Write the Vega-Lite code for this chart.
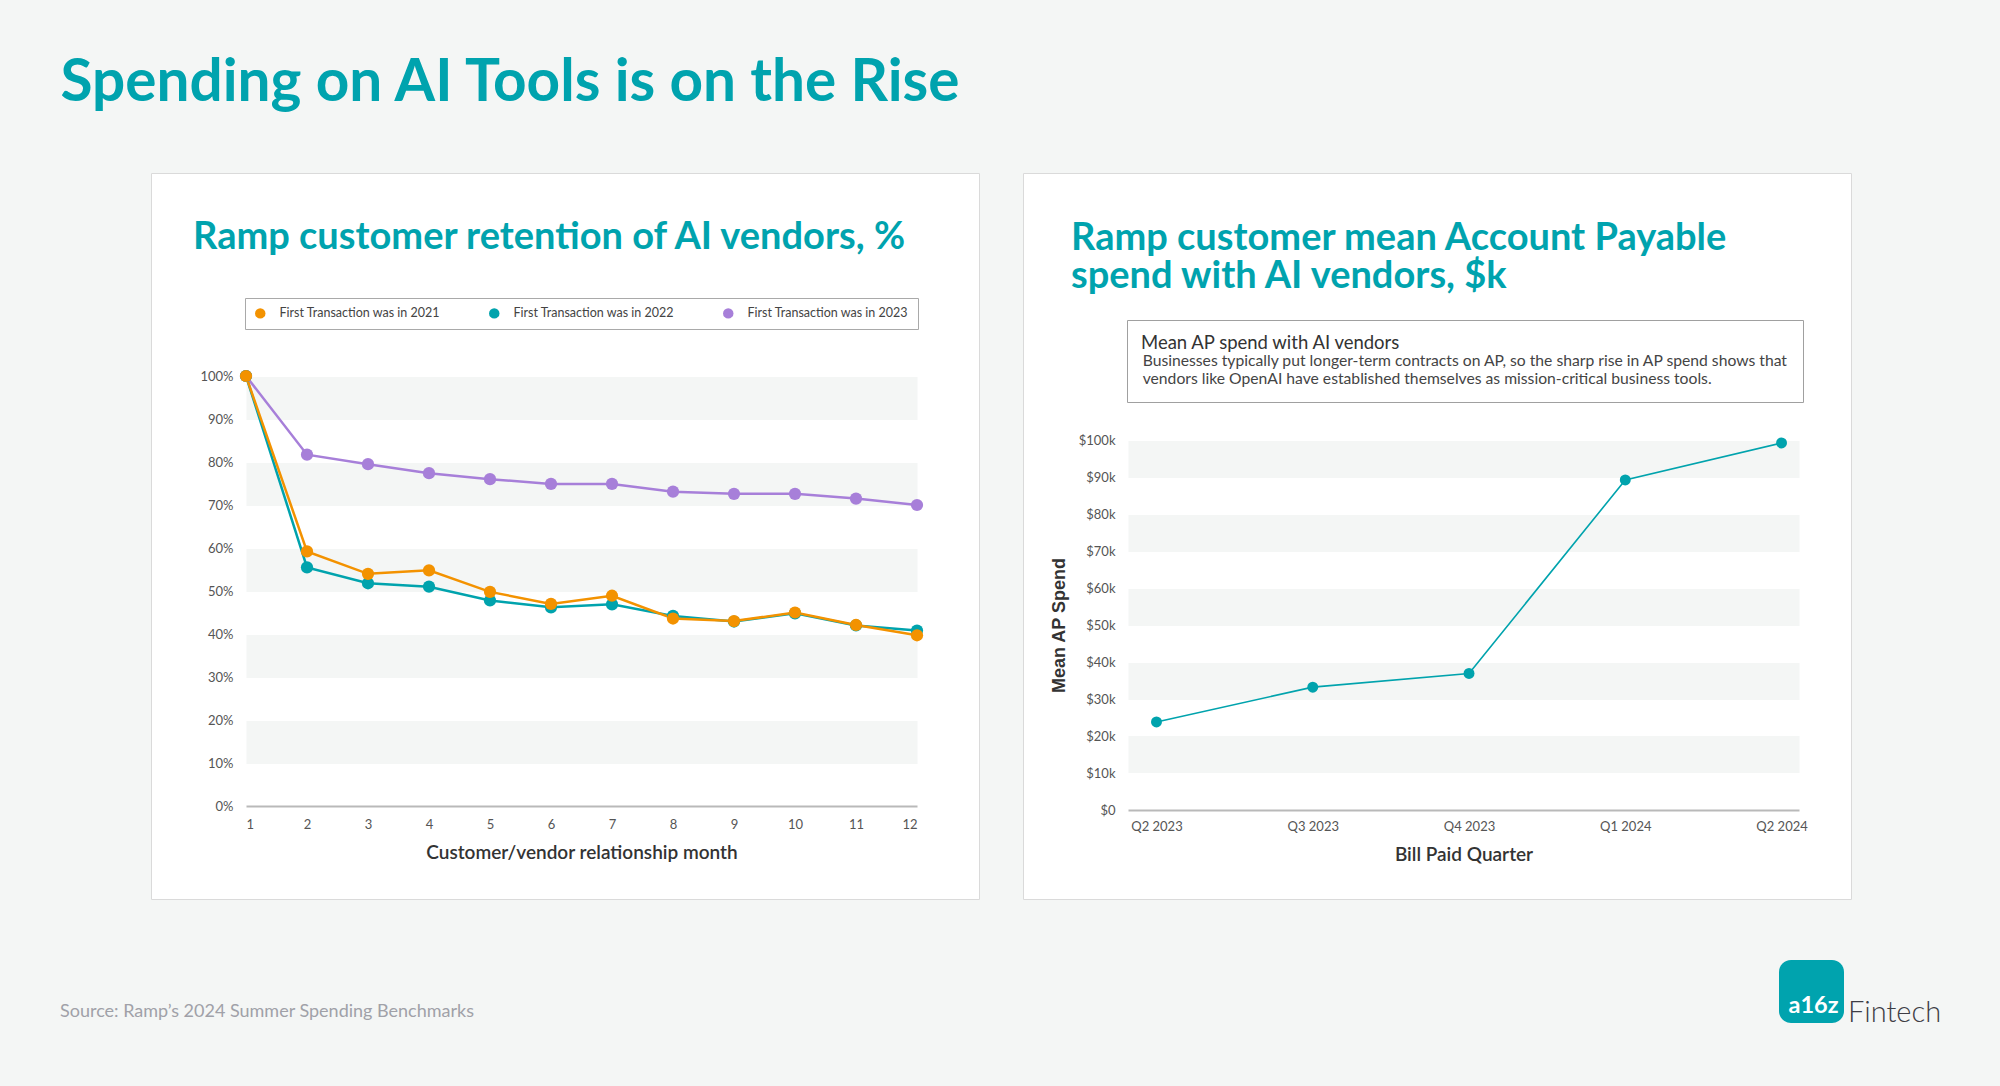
{
  "$schema": "https://vega.github.io/schema/vega-lite/v6.json",
  "background": "#F4F6F5",
  "padding": {"left": 60, "top": 54, "right": 60, "bottom": 80},
  "title": {"text": "Spending on AI Tools is on the Rise", "anchor": "start", "frame": "bounds", "font": "Lato", "fontSize": 58.5, "fontWeight": "bold", "color": "#00A3AE", "baseline": "alphabetic", "offset": 13},
  "datasets": {
    "retention": [
      {"cohort": "First Transaction was in 2023", "month": 1, "retention": 1.0},
      {"cohort": "First Transaction was in 2023", "month": 2, "retention": 0.817},
      {"cohort": "First Transaction was in 2023", "month": 3, "retention": 0.795},
      {"cohort": "First Transaction was in 2023", "month": 4, "retention": 0.774},
      {"cohort": "First Transaction was in 2023", "month": 5, "retention": 0.76},
      {"cohort": "First Transaction was in 2023", "month": 6, "retention": 0.749},
      {"cohort": "First Transaction was in 2023", "month": 7, "retention": 0.749},
      {"cohort": "First Transaction was in 2023", "month": 8, "retention": 0.731},
      {"cohort": "First Transaction was in 2023", "month": 9, "retention": 0.726},
      {"cohort": "First Transaction was in 2023", "month": 10, "retention": 0.726},
      {"cohort": "First Transaction was in 2023", "month": 11, "retention": 0.715},
      {"cohort": "First Transaction was in 2023", "month": 12, "retention": 0.7},
      {"cohort": "First Transaction was in 2022", "month": 1, "retention": 1.0},
      {"cohort": "First Transaction was in 2022", "month": 2, "retention": 0.555},
      {"cohort": "First Transaction was in 2022", "month": 3, "retention": 0.518},
      {"cohort": "First Transaction was in 2022", "month": 4, "retention": 0.51},
      {"cohort": "First Transaction was in 2022", "month": 5, "retention": 0.478},
      {"cohort": "First Transaction was in 2022", "month": 6, "retention": 0.462},
      {"cohort": "First Transaction was in 2022", "month": 7, "retention": 0.469},
      {"cohort": "First Transaction was in 2022", "month": 8, "retention": 0.442},
      {"cohort": "First Transaction was in 2022", "month": 9, "retention": 0.429},
      {"cohort": "First Transaction was in 2022", "month": 10, "retention": 0.448},
      {"cohort": "First Transaction was in 2022", "month": 11, "retention": 0.42},
      {"cohort": "First Transaction was in 2022", "month": 12, "retention": 0.408},
      {"cohort": "First Transaction was in 2021", "month": 1, "retention": 1.0},
      {"cohort": "First Transaction was in 2021", "month": 2, "retention": 0.592},
      {"cohort": "First Transaction was in 2021", "month": 3, "retention": 0.54},
      {"cohort": "First Transaction was in 2021", "month": 4, "retention": 0.548},
      {"cohort": "First Transaction was in 2021", "month": 5, "retention": 0.498},
      {"cohort": "First Transaction was in 2021", "month": 6, "retention": 0.47},
      {"cohort": "First Transaction was in 2021", "month": 7, "retention": 0.489},
      {"cohort": "First Transaction was in 2021", "month": 8, "retention": 0.436},
      {"cohort": "First Transaction was in 2021", "month": 9, "retention": 0.43},
      {"cohort": "First Transaction was in 2021", "month": 10, "retention": 0.45},
      {"cohort": "First Transaction was in 2021", "month": 11, "retention": 0.421},
      {"cohort": "First Transaction was in 2021", "month": 12, "retention": 0.397}
    ],
    "ap": [
      {"quarter": "Q2 2023", "spend": 23.8},
      {"quarter": "Q3 2023", "spend": 33.2},
      {"quarter": "Q4 2023", "spend": 36.9},
      {"quarter": "Q1 2024", "spend": 89.2},
      {"quarter": "Q2 2024", "spend": 99.2}
    ]
  },
  "hconcat": [
    {
      "width": 828,
      "height": 726,
      "title": {"text": "Ramp customer retention of AI vendors, %", "anchor": "start", "frame": "group", "offset": -114, "dx": 42, "baseline": "alphabetic", "font": "Lato", "fontSize": 38, "fontWeight": "bold", "color": "#00A3AE"},
      "data": {"name": "retention"},
      "encoding": {
        "x": {"field": "month", "type": "quantitative", "scale": {"domain": [1, 12], "range": [95, 766], "nice": false, "zero": false},
          "axis": {"orient": "bottom", "offset": -93, "grid": false, "values": [1,2,3,4,5,6,7,8,9,10,11,12], "format": "d", "labelPadding": 12, "domain": true, "domainColor": "#B9B9B9", "domainWidth": 2, "title": "Customer/vendor relationship month", "titlePadding": 12}},
        "color": {"field": "cohort", "type": "nominal",
          "scale": {"domain": ["First Transaction was in 2021", "First Transaction was in 2022", "First Transaction was in 2023"], "range": ["#F39200", "#00A3AD", "#A77FD9"]},
          "legend": {"orient": "none", "legendX": 94, "legendY": 125, "direction": "horizontal", "title": null, "strokeColor": "#A9A9A9", "fillColor": "#FFFFFF", "padding": 9, "labelFont": "Lato", "labelFontSize": 12.5, "labelColor": "#444444", "symbolType": "circle", "symbolSize": 110, "symbolStrokeWidth": 0, "symbolOpacity": 1, "labelOffset": 13, "columnPadding": 47, "labelLimit": 400}}
      },
      "layer": [
        {
          "mark": {"type": "line", "strokeWidth": 2.5},
          "encoding": {
            "y": {"field": "retention", "type": "quantitative", "scale": {"domain": [0, 1], "range": [633, 203], "nice": false},
              "axis": {"orient": "left", "offset": -95, "grid": true, "gridColor": "#F4F6F5", "gridWidth": 43, "values": [0.15, 0.35, 0.55, 0.75, 0.95], "labels": false, "ticks": false, "domain": false, "title": null, "zindex": 0}}
          }
        },
        {
          "mark": {"type": "point", "filled": true, "size": 150, "opacity": 1},
          "encoding": {
            "y": {"field": "retention", "type": "quantitative", "scale": {"domain": [0, 1], "range": [633, 203], "nice": false},
              "axis": {"orient": "left", "offset": -95, "grid": false, "values": [0, 0.1, 0.2, 0.3, 0.4, 0.5, 0.6, 0.7, 0.8, 0.9, 1], "format": ".0%", "labelPadding": 13, "ticks": false, "domain": false, "title": null}},
            "shape": {"datum": "Source: Ramp’s 2024 Summer Spending Benchmarks", "scale": {"domain": ["Source: Ramp’s 2024 Summer Spending Benchmarks"], "range": ["circle"]},
              "legend": {"orient": "none", "legendX": -90, "legendY": 830, "title": null, "labelFont": "Lato", "labelFontSize": 18, "labelColor": "#A0A1A8", "padding": 0, "symbolSize": 0, "symbolOpacity": 0, "symbolStrokeWidth": 0, "labelOffset": -19, "labelLimit": 900}}
          }
        }
      ],
      "resolve": {"axis": {"y": "independent"}}
    },
    {
      "width": 828,
      "height": 726,
      "title": {"text": ["Ramp customer mean Account Payable", "spend with AI vendors, $k"], "anchor": "start", "frame": "group", "offset": -153, "dx": 48, "baseline": "alphabetic", "lineHeight": 38.5, "font": "Lato", "fontSize": 38, "fontWeight": "bold", "color": "#00A3AE"},
      "data": {"name": "ap"},
      "encoding": {
        "x": {"field": "quarter", "type": "ordinal", "sort": null, "scale": {"type": "point", "range": [105, 776], "padding": 0.147, "align": 0.62},
          "axis": {"orient": "bottom", "offset": -89, "grid": false, "labelAngle": 0, "labelPadding": 10, "domain": true, "domainColor": "#B9B9B9", "domainWidth": 2, "title": "Bill Paid Quarter", "titlePadding": 12}},
        "color": {"datum": "Businesses typically put longer-term contracts on AP, so the sharp rise in AP spend shows that",
          "scale": {"domain": ["Businesses typically put longer-term contracts on AP, so the sharp rise in AP spend shows that", "vendors like OpenAI have established themselves as mission-critical business tools."], "range": ["#00A3AD", "#00A3AD"]},
          "legend": {"orient": "none", "legendX": 104, "legendY": 147, "direction": "vertical", "title": "Mean AP spend with AI vendors", "titleFont": "Lato", "titleFontSize": 18.5, "titleFontWeight": "normal", "titleColor": "#333333", "titlePadding": 1, "titleLimit": 900, "labelFont": "Lato", "labelFontSize": 15.7, "labelColor": "#444444", "labelLimit": 900, "symbolSize": 0, "symbolOpacity": 0, "symbolStrokeWidth": 0, "labelOffset": -14, "rowPadding": 1, "strokeColor": "#A0A0A0", "fillColor": "#FFFFFF", "padding": 14}}
      },
      "layer": [
        {
          "mark": {"type": "line", "strokeWidth": 1.6},
          "encoding": {
            "y": {"field": "spend", "type": "quantitative", "scale": {"domain": [0, 100], "range": [637, 267], "nice": false},
              "axis": {"orient": "left", "offset": -105, "grid": true, "gridColor": "#F4F6F5", "gridWidth": 37, "values": [15, 35, 55, 75, 95], "labels": false, "ticks": false, "domain": false, "title": null, "zindex": 0}}
          }
        },
        {
          "mark": {"type": "point", "filled": true, "size": 120, "opacity": 1},
          "encoding": {
            "y": {"field": "spend", "type": "quantitative", "scale": {"domain": [0, 100], "range": [637, 267], "nice": false},
              "axis": {"orient": "left", "offset": -105, "grid": false, "values": [0,10,20,30,40,50,60,70,80,90,100], "labelExpr": "datum.value == 0 ? '$0' : '$' + datum.value + 'k'", "labelPadding": 13, "ticks": false, "domain": false, "title": "Mean AP Spend", "titleFont": "Liberation Sans", "titleFontSize": 18, "titleFontWeight": "bold", "titleColor": "#333333", "titlePadding": 10}},
            "opacity": {"datum": "a16z", "scale": {"domain": ["a16z"], "range": [1]},
              "legend": {"orient": "none", "legendX": 756, "legendY": 787, "title": "\u00a0", "titleFontSize": 24, "titlePadding": 5, "labelFont": "Lato", "labelFontSize": 23.5, "labelFontWeight": "bold", "labelColor": "#FFFFFF", "fillColor": "#00A3AE", "cornerRadius": 12, "padding": 5, "symbolSize": 0, "symbolOpacity": 0, "symbolStrokeWidth": 0, "labelOffset": -19}},
            "shape": {"datum": "Fintech", "scale": {"domain": ["Fintech"], "range": ["circle"]},
              "legend": {"orient": "none", "legendX": 810, "legendY": 825, "title": null, "labelFont": "Lato", "labelFontSize": 29, "labelFontWeight": 300, "labelColor": "#3D3D45", "padding": 0, "symbolSize": 0, "symbolOpacity": 0, "symbolStrokeWidth": 0, "labelOffset": -14}}
          }
        }
      ],
      "resolve": {"axis": {"y": "independent"}}
    }
  ],
  "spacing": 44,
  "bounds": "flush",
  "resolve": {"scale": {"color": "independent", "shape": "independent", "opacity": "independent"}, "legend": {"color": "independent", "shape": "independent", "opacity": "independent"}},
  "config": {
    "font": "Lato",
    "view": {"fill": "#FFFFFF", "stroke": "#DADADA", "strokeWidth": 1},
    "axis": {"labelFont": "Lato", "labelFontSize": 13, "labelColor": "#555555", "titleFont": "Lato", "titleFontSize": 19, "titleFontWeight": 600, "titleColor": "#333333", "ticks": false, "grid": false},
    "legend": {"labelFont": "Lato", "titleFont": "Lato"}
  }
}
